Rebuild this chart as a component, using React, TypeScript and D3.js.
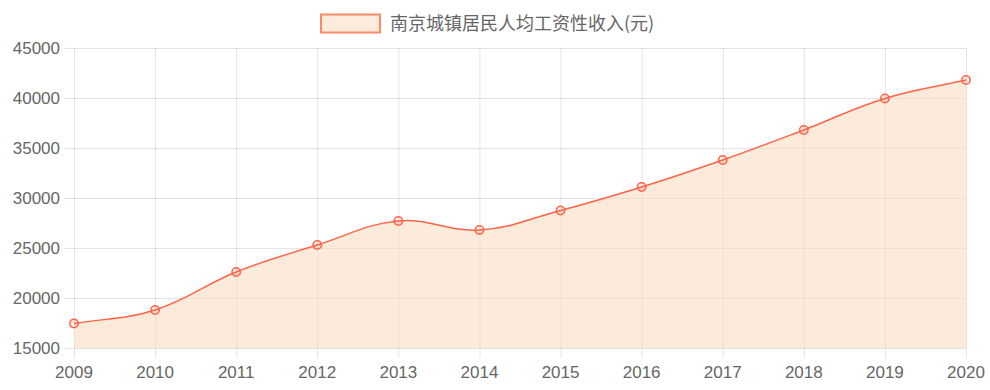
import React from "react";
import * as d3 from "d3";

const years = ["2009","2010","2011","2012","2013","2014","2015","2016","2017","2018","2019","2020"];
const income = [17450, 18800, 22600, 25300, 27700, 26800, 28750, 31100, 33800, 36800, 39950, 41800];
const yTicks = [15000, 20000, 25000, 30000, 35000, 40000, 45000];
const seriesLabel = "南京城镇居民人均工资性收入(元)";

const W = 990, H = 390;
const left = 74, right = 966, top = 48, bottom = 348;
const LINE = "#ff6347";
const FILL = "rgba(250, 220, 195, 0.6)";
const TXT = "#666";
const GRID = "rgba(0,0,0,0.11)";
const FONT = "'Liberation Sans', Arial, sans-serif";

function splinePath(pts: [number, number][], t: number, close?: number) {
  const p = d3.path();
  const cps: { c1: [number, number]; c2: [number, number] }[] = pts.map((cur, i) => {
    const prev = pts[i - 1] || cur;
    const next = pts[i + 1] || cur;
    const d01 = Math.hypot(cur[0] - prev[0], cur[1] - prev[1]);
    const d12 = Math.hypot(next[0] - cur[0], next[1] - cur[1]);
    let s01 = d01 / (d01 + d12);
    let s12 = d12 / (d01 + d12);
    if (isNaN(s01)) s01 = 0;
    if (isNaN(s12)) s12 = 0;
    const fa = t * s01, fb = t * s12;
    return {
      c1: [cur[0] - fa * (next[0] - prev[0]), cur[1] - fa * (next[1] - prev[1])],
      c2: [cur[0] + fb * (next[0] - prev[0]), cur[1] + fb * (next[1] - prev[1])],
    };
  });
  p.moveTo(pts[0][0], pts[0][1]);
  for (let i = 1; i < pts.length; i++) {
    const a = cps[i - 1].c2, b = cps[i].c1;
    p.bezierCurveTo(a[0], a[1], b[0], b[1], pts[i][0], pts[i][1]);
  }
  if (close !== undefined) {
    p.lineTo(pts[pts.length - 1][0], close);
    p.lineTo(pts[0][0], close);
    p.closePath();
  }
  return p.toString();
}

export default function App() {
  const x = d3.scalePoint<string>().domain(years).range([left, right]);
  const y = d3.scaleLinear().domain([15000, 45000]).range([bottom, top]);
  const pts: [number, number][] = years.map((yr, i) => [x(yr)!, y(income[i])]);
  const linePath = splinePath(pts, 0.4);
  const areaPath = splinePath(pts, 0.4, bottom);

  return (
    <svg width={W} height={H} style={{ position: "absolute", left: 0, top: 0, background: "#fff" }}>
      {/* legend */}
      <rect x={321} y={14.5} width={59} height={18} fill="#fdebdc" stroke="#fa8a6a" strokeWidth={2} />
      <text x={390} y={30} fontSize={18} fill={TXT} fontFamily="'Noto Sans CJK SC', sans-serif">{seriesLabel}</text>

      {/* grid */}
      {yTicks.map((v) => (
        <line key={"h" + v} x1={left - 10} x2={right} y1={y(v) + 0.5} y2={y(v) + 0.5} stroke={GRID} />
      ))}
      {years.map((yr) => (
        <line key={"v" + yr} x1={x(yr)! + 0.5} x2={x(yr)! + 0.5} y1={top} y2={bottom + 10} stroke={GRID} />
      ))}

      {/* area & line */}
      <path d={areaPath} fill={FILL} />
      <path d={linePath} fill="none" stroke={LINE} strokeWidth={1.5} />
      {pts.map((p, i) => (
        <circle key={i} cx={p[0]} cy={p[1]} r={4.2} fill="rgba(255,99,71,0.12)" stroke={LINE} strokeWidth={1.5} />
      ))}

      {/* ticks */}
      {yTicks.map((v) => (
        <text key={"yt" + v} x={left - 14} y={y(v)} dy="0.36em" textAnchor="end" fontSize={17} fill={TXT} fontFamily={FONT}>{v}</text>
      ))}
      {years.map((yr) => (
        <text key={"xt" + yr} x={x(yr)!} y={378} textAnchor="middle" fontSize={17} fill={TXT} fontFamily={FONT}>{yr}</text>
      ))}
    </svg>
  );
}
